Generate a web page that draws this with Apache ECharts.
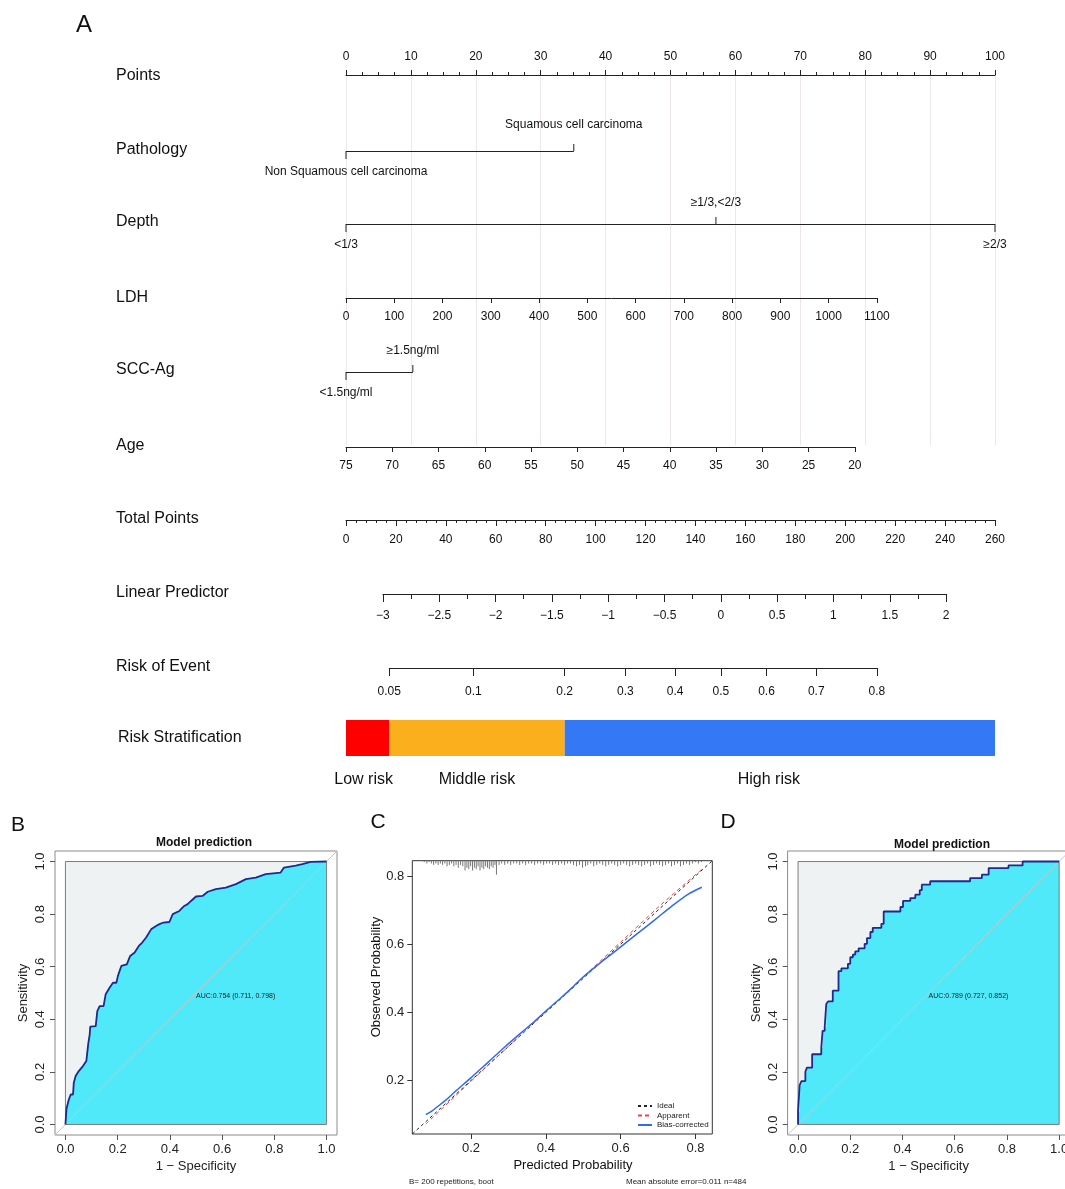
<!DOCTYPE html>
<html>
<head>
<meta charset="utf-8">
<title>Nomogram, ROC and calibration</title>
<script src="https://cdn.jsdelivr.net/npm/echarts@6.0.0/dist/echarts.min.js"></script>
<style>
  html, body { margin: 0; padding: 0; background: #ffffff; }
  #chart { width: 1065px; height: 1189px; }
</style>
</head>
<body>
<div id="chart"></div>
<script>
// ================= data =================
// Nomogram: points contributed by each predictor level
const pathologyLevels = ['Non Squamous cell carcinoma', 'Squamous cell carcinoma'];
const pathologyPoints = [0, 35.1];
const depthLevels = ['<1/3', '≥1/3,<2/3', '≥2/3'];
const depthPoints = [0, 57.0, 100];
const sccLevels = ['<1.5ng/ml', '≥1.5ng/ml'];
const sccPoints = [0, 10.3];
// Continuous predictors: value range and the points at the high-point end
const ldhRange = [0, 1100];
const ldhMaxPoints = 81.8;      // LDH 1100 -> 81.8 points
const ageRange = [20, 75];
const ageMaxPoints = 78.4;      // age 20 -> 78.4 points, age 75 -> 0
const totalPointsRange = [0, 260];
// Linear predictor = lpAtZeroPoints + total points / pointsPerLp
const lpRange = [-3, 2];
const lpAtZeroPoints = -3.328;
const pointsPerLp = 45.12;
const riskTicks = [0.05, 0.1, 0.2, 0.3, 0.4, 0.5, 0.6, 0.7, 0.8];
const riskCuts = [0.05, 0.2];
const riskGroups = ['Low risk', 'Middle risk', 'High risk'];

// ROC, training cohort: [1 - specificity, sensitivity]
const rocTrain = [
  [0, 0], [0.004, 0.06], [0.013, 0.095], [0.02, 0.114], [0.029, 0.114], [0.032, 0.159],
  [0.039, 0.184], [0.051, 0.203], [0.067, 0.222], [0.080, 0.241], [0.087, 0.305], [0.093, 0.343],
  [0.095, 0.372], [0.116, 0.374], [0.122, 0.431], [0.131, 0.45], [0.146, 0.45], [0.154, 0.495],
  [0.169, 0.52], [0.182, 0.539], [0.195, 0.539], [0.201, 0.565], [0.214, 0.603], [0.235, 0.609],
  [0.248, 0.641], [0.265, 0.654], [0.281, 0.679], [0.294, 0.692], [0.309, 0.711], [0.328, 0.742],
  [0.347, 0.755], [0.358, 0.761], [0.375, 0.768], [0.398, 0.770], [0.411, 0.800], [0.436, 0.812],
  [0.455, 0.831], [0.468, 0.838], [0.481, 0.850], [0.500, 0.867], [0.525, 0.869], [0.545, 0.885],
  [0.576, 0.895], [0.614, 0.901], [0.653, 0.914], [0.691, 0.933], [0.729, 0.939], [0.767, 0.952],
  [0.824, 0.958], [0.837, 0.977], [0.882, 0.984], [0.907, 0.990], [0.939, 0.999], [1, 1]
];
const aucTrain = 0.754, aucTrainCI = [0.711, 0.798];

// ROC, validation cohort: each step as [1 - specificity, sensitivity after the rise]
const rocValidSteps = [
  [0, 0.048], [0.006, 0.149], [0.013, 0.165], [0.028, 0.2], [0.034, 0.216], [0.054, 0.267],
  [0.089, 0.292], [0.094, 0.356], [0.102, 0.369], [0.108, 0.458], [0.115, 0.468], [0.133, 0.509],
  [0.155, 0.583], [0.166, 0.594], [0.191, 0.611], [0.2, 0.636], [0.21, 0.646], [0.219, 0.658],
  [0.232, 0.670], [0.255, 0.687], [0.264, 0.709], [0.277, 0.732], [0.286, 0.748], [0.319, 0.763],
  [0.328, 0.81], [0.392, 0.827], [0.402, 0.850], [0.430, 0.861], [0.449, 0.874], [0.466, 0.891],
  [0.474, 0.912], [0.506, 0.925], [0.659, 0.937], [0.704, 0.950], [0.730, 0.975], [0.806, 0.985],
  [0.86, 1.0]
];
const aucValid = 0.789, aucValidCI = [0.727, 0.852];

// Calibration (bootstrap)
const calLimits = [0.043, 0.845];
const calTicks = [0.2, 0.4, 0.6, 0.8];
const apparentX = [0.079, 0.2, 0.3, 0.4, 0.5, 0.6, 0.7, 0.817];
const apparentY = [0.072, 0.198, 0.300, 0.402, 0.504, 0.606, 0.708, 0.820];
const biasX = [0.079, 0.095, 0.110, 0.130, 0.157, 0.202, 0.246, 0.291, 0.336, 0.370, 0.400,
               0.440, 0.469, 0.496, 0.530, 0.558, 0.600, 0.647, 0.692, 0.736, 0.781, 0.817];
const biasY = [0.100, 0.110, 0.123, 0.140, 0.167, 0.210, 0.254, 0.299, 0.342, 0.374, 0.404,
               0.442, 0.471, 0.500, 0.531, 0.556, 0.592, 0.633, 0.672, 0.711, 0.747, 0.767];
// Distribution of predicted probabilities: [predicted, relative frequency]
const predRug = [
  [0.075,1],[0.082,2],[0.088,1],[0.094,2],[0.100,3],[0.106,2],[0.112,3],[0.118,2],[0.124,3],[0.130,2],
  [0.136,4],[0.142,3],[0.148,2],[0.154,4],[0.160,3],[0.166,5],[0.172,3],[0.178,4],[0.184,7],[0.189,5],
  [0.194,6],[0.199,4],[0.204,7],[0.209,5],[0.214,6],[0.219,4],[0.224,7],[0.229,5],[0.234,6],[0.239,4],
  [0.244,5],[0.249,6],[0.254,4],[0.259,5],[0.264,3],[0.268,10],[0.275,3],[0.282,2],[0.290,3],[0.298,2],
  [0.306,3],[0.314,2],[0.322,2],[0.330,3],[0.338,2],[0.346,3],[0.354,2],[0.362,2],[0.370,3],[0.378,2],
  [0.386,2],[0.394,3],[0.402,2],[0.410,2],[0.418,3],[0.426,2],[0.434,3],[0.442,2],[0.450,3],[0.458,2],
  [0.466,2],[0.474,3],[0.482,4],[0.490,3],[0.498,5],[0.506,4],[0.512,3],[0.520,2],[0.528,4],[0.536,3],
  [0.544,2],[0.552,3],[0.560,4],[0.568,3],[0.576,2],[0.584,3],[0.592,4],[0.600,3],[0.608,2],[0.616,3],
  [0.624,4],[0.632,3],[0.640,2],[0.648,3],[0.656,4],[0.664,3],[0.672,2],[0.680,4],[0.688,3],[0.696,2],
  [0.704,3],[0.712,4],[0.720,3],[0.728,2],[0.736,4],[0.744,3],[0.752,2],[0.760,4],[0.768,3],[0.776,2],
  [0.784,3],[0.792,2],[0.800,1],[0.808,2],[0.816,1]
];
const bootReps = 200, meanAbsError = 0.011, nPatients = 484;

// ================= layout & style =================
const FONT = "'Liberation Sans', Arial, Helvetica, sans-serif";
const INK = '#222222';
const NOMO_LEFT = 346, NOMO_WIDTH = 649;          // pixel span of the 0-100 points scale
const ROW = { points: 75, pathology: 151, depth: 224, ldh: 298, scc: 372, age: 447,
              total: 520, lp: 594, risk: 668 };
const STRAT = { top: 720, height: 36, labelY: 780, labelDx: [-4, 0, -11] };
const riskColors = ['#FF0000', '#FCAF1D', '#3478F6'];
const RUG_PX = 1.4;

const ptsX = p => NOMO_LEFT + p / 100 * NOMO_WIDTH;
const tpX = tp => NOMO_LEFT + tp / totalPointsRange[1] * NOMO_WIDTH;
const lpToTp = lp => (lp - lpAtZeroPoints) * pointsPerLp;
const logit = p => Math.log(p / (1 - p));
const expit = v => 1 / (1 + Math.exp(-v));
const minusFmt = v => (v < 0 ? '\u2212' + Math.abs(v) : String(v));
const plainFmt = v => String(v);

function band(x0, x1, lineY) {
  return { left: x0, top: lineY - 10, width: x1 - x0, height: 10,
           containLabel: false, outerBoundsMode: 'none' };
}

const grids = [
  { left: NOMO_LEFT, top: ROW.points, width: NOMO_WIDTH, height: 370, containLabel: false, outerBoundsMode: 'none' }, // 0 points
  band(ptsX(0), ptsX(ldhMaxPoints), ROW.ldh),                                   // 1 LDH
  band(ptsX(0), ptsX(ageMaxPoints), ROW.age),                                   // 2 age
  band(tpX(totalPointsRange[0]), tpX(totalPointsRange[1]), ROW.total),          // 3 total points
  band(tpX(lpToTp(lpRange[0])), tpX(lpToTp(lpRange[1])), ROW.lp),               // 4 linear predictor
  band(tpX(lpToTp(logit(riskTicks[0]))), tpX(lpToTp(logit(riskTicks[riskTicks.length - 1]))), ROW.risk), // 5 risk
  { left: NOMO_LEFT, top: STRAT.top, width: NOMO_WIDTH, height: STRAT.height, containLabel: false, outerBoundsMode: 'none' }, // 6 strata
  { left: 55, top: 851, width: 282, height: 284, show: true, borderColor: '#8c8c8c', borderWidth: 1,
    backgroundColor: '#ffffff', containLabel: false, outerBoundsMode: 'none' },  // 7 ROC training
  { left: 412.3, top: 860.7, width: 300, height: 273.3, show: true, borderColor: '#333333', borderWidth: 1,
    backgroundColor: '#ffffff', containLabel: false, outerBoundsMode: 'none' },  // 8 calibration
  { left: 787.6, top: 851, width: 282, height: 284, show: true, borderColor: '#8c8c8c', borderWidth: 1,
    backgroundColor: '#ffffff', containLabel: false, outerBoundsMode: 'none' }   // 9 ROC validation
];

function rowAxis(gridIndex, o) {
  return {
    type: 'value', gridIndex, position: o.position || 'bottom',
    min: o.min, max: o.max, interval: o.interval, inverse: !!o.inverse,
    axisLine: { show: true, onZero: false, lineStyle: { color: INK, width: 1 } },
    axisTick: Object.assign({ show: true, length: o.tick || 5, lineStyle: { color: INK, width: 1 } }, o.tickExtra || {}),
    minorTick: o.minor ? { show: true, splitNumber: o.minor, length: o.minorLen || 3, lineStyle: { color: INK, width: 1 } } : { show: false },
    axisLabel: Object.assign({ show: true, margin: o.margin || 12, fontSize: 12, color: '#111', fontFamily: FONT,
                               formatter: plainFmt }, o.labelExtra || {}),
    splitLine: o.split ? { show: true, lineStyle: { color: '#EFE7E7', width: 1 } } : { show: false },
    minorSplitLine: { show: false }
  };
}
const hiddenY = g => ({ type: 'value', gridIndex: g, min: 0, max: 1, show: false });

const rocTicks = [0, 0.2, 0.4, 0.6, 0.8, 1];
function rocAxis(g, dim) {
  const isY = dim === 'y';
  return {
    type: 'value', gridIndex: g, min: -0.04, max: 1.04,
    axisLine: { show: false, onZero: false },
    axisTick: { show: true, customValues: rocTicks, length: 5, lineStyle: { color: '#555' } },
    axisLabel: { show: true, customValues: rocTicks, formatter: v => v.toFixed(1), fontSize: 13,
                 margin: 8, color: '#222', fontFamily: FONT, rotate: isY ? 90 : 0 },
    splitLine: { show: false },
    name: isY ? 'Sensitivity' : '1 \u2212 Specificity', nameLocation: 'middle', nameGap: 25,
    nameTextStyle: { fontSize: 13, color: '#222', fontFamily: FONT }
  };
}
function calAxis(g) {
  return {
    type: 'value', gridIndex: g, min: calLimits[0], max: calLimits[1],
    axisLine: { show: false, onZero: false },
    axisTick: { show: true, customValues: calTicks, length: 5, lineStyle: { color: '#333' } },
    axisLabel: { show: true, customValues: calTicks, formatter: v => v.toFixed(1), fontSize: 13,
                 margin: 8, color: '#222', fontFamily: FONT },
    splitLine: { show: false }
  };
}

const xAxes = [
  rowAxis(0, { position: 'top', min: 0, max: 100, interval: 10, minor: 4, tick: 5, margin: 12, split: true }),
  rowAxis(1, { min: ldhRange[0], max: ldhRange[1], interval: 100, tick: 5, margin: 13 }),
  rowAxis(2, { min: ageRange[0], max: ageRange[1], interval: 5, inverse: true, tick: 5, margin: 13 }),
  rowAxis(3, { min: totalPointsRange[0], max: totalPointsRange[1], interval: 20, minor: 5, tick: 6, margin: 14 }),
  rowAxis(4, { min: lpRange[0], max: lpRange[1], interval: 0.5, minor: 2, minorLen: 5, tick: 8, margin: 16,
               labelExtra: { formatter: minusFmt } }),
  rowAxis(5, { min: logit(riskTicks[0]), max: logit(riskTicks[riskTicks.length - 1]), tick: 8, margin: 18,
               tickExtra: { customValues: riskTicks.map(logit) },
               labelExtra: { customValues: riskTicks.map(logit), formatter: v => String(+expit(v).toFixed(2)) } }),
  { type: 'value', gridIndex: 6, min: totalPointsRange[0], max: totalPointsRange[1], show: false },
  rocAxis(7, 'x'), calAxis(8), rocAxis(9, 'x')
];
const yAxes = [hiddenY(0), hiddenY(1), hiddenY(2), hiddenY(3), hiddenY(4), hiddenY(5), hiddenY(6),
               rocAxis(7, 'y'), calAxis(8), rocAxis(9, 'y')];

// ---- nomogram rows for categorical predictors ----
function levelRow(levels, pts, lineY, aboveGap) {
  const lo = Math.min(...pts), hi = Math.max(...pts);
  return {
    type: 'custom', xAxisIndex: 0, yAxisIndex: 0, silent: true, z: 5,
    data: pts.map(p => [p, 0]),
    renderItem: (params, api) => {
      const i = params.dataIndex;
      const x = api.coord([api.value(0), 0])[0];
      const above = i % 2 === 1;
      const kids = [];
      if (i === 0) {
        kids.push({ type: 'line', shape: { x1: api.coord([lo, 0])[0], y1: lineY + 0.5, x2: api.coord([hi, 0])[0], y2: lineY + 0.5 },
                    style: { stroke: INK, lineWidth: 1 } });
      }
      kids.push({ type: 'line', shape: { x1: x, y1: lineY, x2: x, y2: above ? lineY - 7 : lineY + 8 },
                  style: { stroke: INK, lineWidth: 1 } });
      kids.push({ type: 'text', style: { text: levels[i], x: x, y: above ? lineY - aboveGap : lineY + 21,
                  align: 'center', verticalAlign: 'middle', fontSize: 12, fontFamily: FONT, fill: '#111' } });
      return { type: 'group', children: kids };
    }
  };
}

// ---- risk stratification bar ----
const stratEdges = [totalPointsRange[0], ...riskCuts.map(p => lpToTp(logit(p))), totalPointsRange[1]];
const stratData = riskGroups.map((g, i) => [stratEdges[i], stratEdges[i + 1], i]);
const stratSeries = {
  type: 'custom', xAxisIndex: 6, yAxisIndex: 6, silent: true, data: stratData,
  renderItem: (params, api) => {
    const i = params.dataIndex;
    const a = api.coord([api.value(0), 1]), b = api.coord([api.value(1), 0]);
    return { type: 'group', children: [
      { type: 'rect', shape: { x: a[0], y: a[1], width: b[0] - a[0], height: b[1] - a[1] }, style: { fill: riskColors[i] } },
      { type: 'text', style: { text: riskGroups[i], x: (a[0] + b[0]) / 2 + STRAT.labelDx[i], y: STRAT.labelY,
        align: 'center', verticalAlign: 'middle', fontSize: 16, fontFamily: FONT, fill: '#111' } }
    ] };
  }
};

// ---- ROC panels ----
function stairs(steps) {
  const out = [[0, 0]];
  let prevY = 0;
  steps.forEach(([x, y]) => { out.push([x, prevY]); out.push([x, y]); prevY = y; });
  out.push([1, prevY]);
  out.push([1, 1]);
  return out;
}
function rocLayers(ax, curve, auc, ci) {
  const ext = [-0.04, 1.04];
  const common = { xAxisIndex: ax, yAxisIndex: ax, silent: true };
  const label = 'AUC:' + auc.toFixed(3) + ' (' + ci[0].toFixed(3) + ', ' + ci[1].toFixed(3) + ')';
  return [
    Object.assign({ type: 'custom', z: 1, data: [[0, 0]], renderItem: (p, api) => {
      const a = api.coord([0, 0]), b = api.coord([1, 1]);
      return { type: 'rect', shape: { x: a[0], y: b[1], width: b[0] - a[0], height: a[1] - b[1] }, style: { fill: '#EFF2F2' } };
    } }, common),
    Object.assign({ type: 'custom', z: 2, data: [[0, 0]], renderItem: (p, api) => ({
      type: 'polygon', shape: { points: curve.concat([[1, 0]]).map(c => api.coord(c)) }, style: { fill: '#4FE9F9' }
    }) }, common),
    Object.assign({ type: 'line', z: 3, data: [[ext[0], ext[0]], [ext[1], ext[1]]], symbol: 'none',
      lineStyle: { color: '#C6C6C6', width: 1 } }, common),
    Object.assign({ type: 'custom', z: 4, data: [[0, 0]], renderItem: (p, api) => {
      const a = api.coord([0, 0]), b = api.coord([1, 1]);
      return { type: 'rect', shape: { x: a[0], y: b[1], width: b[0] - a[0], height: a[1] - b[1] },
               style: { fill: 'none', stroke: '#7d7d7d', lineWidth: 1 } };
    } }, common),
    Object.assign({ type: 'line', z: 5, data: curve, symbol: 'none', lineStyle: { color: '#1F2A8C', width: 1.8 } }, common),
    Object.assign({ type: 'custom', z: 6, data: [[0.5, 0.487]], renderItem: (p, api) => {
      const c = api.coord([api.value(0), api.value(1)]);
      return { type: 'text', style: { text: label, x: c[0], y: c[1], align: 'left', verticalAlign: 'middle',
               fontSize: 7, fontFamily: FONT, fill: '#222' } };
    } }, common)
  ];
}

// ---- calibration panel ----
const zip = (xs, ys) => xs.map((x, i) => [x, ys[i]]);
const calSeries = [
  { type: 'line', name: 'Ideal', xAxisIndex: 8, yAxisIndex: 8, silent: true, z: 3, symbol: 'none',
    data: [[calLimits[0], calLimits[0]], [calLimits[1], calLimits[1]]],
    lineStyle: { color: '#222', width: 1, type: [3, 3] }, itemStyle: { color: '#222' } },
  { type: 'line', name: 'Apparent', xAxisIndex: 8, yAxisIndex: 8, silent: true, z: 4, symbol: 'none',
    data: zip(apparentX, apparentY), smooth: 0.3,
    lineStyle: { color: '#E8474C', width: 1, type: [4, 3] }, itemStyle: { color: '#E8474C' } },
  { type: 'line', name: 'Bias-corrected', xAxisIndex: 8, yAxisIndex: 8, silent: true, z: 5, symbol: 'none',
    data: zip(biasX, biasY), smooth: 0.3,
    lineStyle: { color: '#2F6BF0', width: 1.5 }, itemStyle: { color: '#2F6BF0' } },
  { type: 'custom', xAxisIndex: 8, yAxisIndex: 8, silent: true, z: 6, data: predRug,
    renderItem: (p, api) => {
      const top = api.coord([api.value(0), calLimits[1]]);
      return { type: 'line', shape: { x1: top[0], y1: top[1], x2: top[0], y2: top[1] + api.value(1) * RUG_PX },
               style: { stroke: '#777', lineWidth: 1 } };
    } }
];

// ---- free text: panel letters, row names, titles ----
function txt(text, x, y, size, o) {
  o = o || {};
  return { type: 'text', x: x, y: y, rotation: o.rot || 0, silent: true,
    style: { text: text, fill: o.color || '#111', fontSize: size, fontFamily: FONT, fontWeight: o.weight || 'normal',
             align: o.align || 'left', verticalAlign: 'middle' } };
}
const rowNames = [['Points', 76], ['Pathology', 150], ['Depth', 222], ['LDH', 298], ['SCC-Ag', 370],
                  ['Age', 446], ['Total Points', 519], ['Linear Predictor', 593], ['Risk of Event', 667]];
const graphics = [
  txt('A', 84, 25, 24, { align: 'center' }),
  txt('B', 18, 825, 21, { align: 'center' }),
  txt('C', 378, 822, 21, { align: 'center' }),
  txt('D', 728, 822, 21, { align: 'center' }),
  ...rowNames.map(([t, y]) => txt(t, 116, y, 16)),
  txt('Risk Stratification', 118, 738, 16),
  txt('Model prediction', 204, 843, 12, { align: 'center', weight: 'bold' }),
  txt('Model prediction', 942, 845, 12, { align: 'center', weight: 'bold' }),
  txt('Observed Probability', 376, 977, 13, { align: 'center', rot: Math.PI / 2 }),
  txt('Predicted Probability', 573, 1165, 13, { align: 'center' }),
  txt('B= ' + bootReps + ' repetitions, boot', 409, 1182, 8, { color: '#222' }),
  txt('Mean absolute error=' + meanAbsError + ' n=' + nPatients, 626, 1182, 8, { color: '#222' })
];

const option = {
  animation: false,
  backgroundColor: '#ffffff',
  textStyle: { fontFamily: FONT },
  grid: grids,
  xAxis: xAxes,
  yAxis: yAxes,
  legend: {
    data: ['Ideal', 'Apparent', 'Bias-corrected'], orient: 'vertical', left: 637, top: 1102,
    itemWidth: 14, itemHeight: 6, itemGap: 1.5, padding: 0, selectedMode: false,
    itemStyle: { opacity: 0, borderWidth: 0 },
    textStyle: { fontSize: 8, color: '#222', fontFamily: FONT }
  },
  graphic: { elements: graphics },
  series: [
    levelRow(pathologyLevels, pathologyPoints, ROW.pathology, 26),
    levelRow(depthLevels, depthPoints, ROW.depth, 21),
    levelRow(sccLevels, sccPoints, ROW.scc, 21),
    stratSeries,
    ...rocLayers(7, rocTrain, aucTrain, aucTrainCI),
    ...calSeries,
    ...rocLayers(9, stairs(rocValidSteps), aucValid, aucValidCI)
  ]
};

const chart = echarts.init(document.getElementById('chart'), null, { renderer: 'canvas', width: 1065, height: 1189 });
chart.setOption(option);
</script>
</body>
</html>
